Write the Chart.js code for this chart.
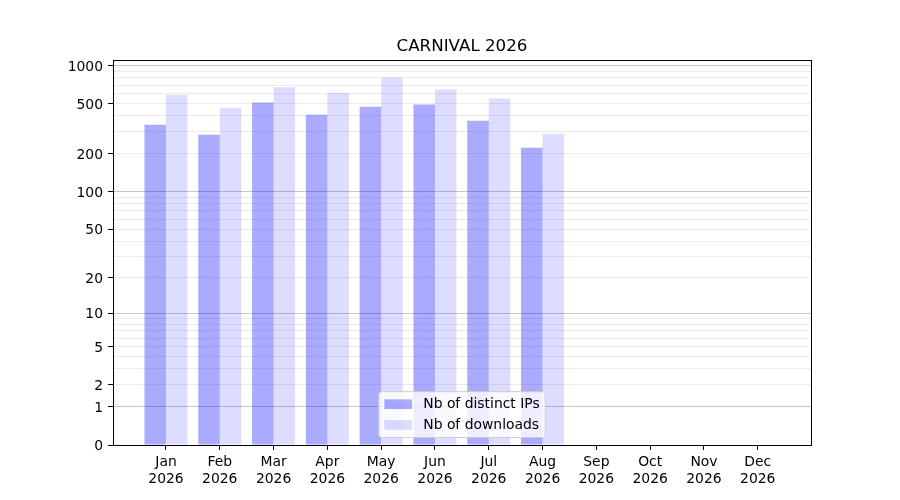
<!DOCTYPE html>
<html>
<head>
<meta charset="utf-8">
<style>
html,body{margin:0;padding:0;background:#fff}
#wrap{width:900px;height:500px}
</style>
<script src="https://cdn.jsdelivr.net/npm/chart.js@4.4.1/dist/chart.umd.min.js"></script>
</head>
<body>
<div id="wrap"><canvas id="c" width="900" height="500"></canvas></div>
<script>
// ---- data ----
const chartTitle = 'CARNIVAL 2026';
const months = ['Jan','Feb','Mar','Apr','May','Jun','Jul','Aug','Sep','Oct','Nov','Dec'];
const yearLabel = '2026';
const distinctIPs = [341, 284, 512, 409, 474, 492, 367, 224];
const downloads = [589, 465, 674, 612, 805, 647, 549, 289];
const seriesLabels = ['Nb of distinct IPs', 'Nb of downloads'];
const yTickLabels = [0, 1, 2, 5, 10, 20, 50, 100, 200, 500, 1000];
const yMajorGrid = [1, 10, 100, 1000];
const yMinorGrid = [2,3,4,5,6,7,8,9,20,30,40,50,60,70,80,90,200,300,400,500,600,700,800,900];
const yGridValues = [0].concat(yMajorGrid, yMinorGrid).sort((a, b) => a - b);

const FONT = '"DejaVu Sans", sans-serif';
const f = v => Math.log10(1 + v);

// ---- custom log(1+x) scale ----
class Log1pScale extends Chart.Scale {
  parse(raw, index) {
    const v = Chart.LinearScale.prototype.parse.call(this, raw, index);
    return isFinite(v) && v >= 0 ? v : null;
  }
  determineDataLimits() {
    const {min, max} = this.getMinMax(true);
    this.min = isFinite(min) ? Math.max(0, min) : 0;
    this.max = isFinite(max) ? max : 1000;
  }
  buildTicks() { return yGridValues.map(v => ({value: v})); }
  getLabelForValue(v) { return String(v); }
  configure() {
    super.configure();
    this._startValue = f(this.min);
    this._valueRange = f(this.max) - this._startValue;
  }
  getPixelForValue(v) {
    if (v === undefined || v === null || isNaN(v)) v = this.min;
    return this.getPixelForDecimal((f(v) - this._startValue) / this._valueRange);
  }
  getValueForPixel(p) {
    const d = this.getDecimalForPixel(p);
    return Math.pow(10, this._startValue + d * this._valueRange) - 1;
  }
}
Log1pScale.id = 'log1p';
Log1pScale.defaults = {};
Chart.register(Log1pScale);

// ---- frame + legend plugins ----
const framePlugin = {
  id: 'frame',
  afterDatasetsDraw(chart) {
    const {ctx, chartArea: a} = chart;
    ctx.save();
    ctx.strokeStyle = '#000';
    ctx.lineWidth = 1;
    ctx.strokeRect(Math.round(a.left) + 0.5, Math.round(a.top) + 0.5,
                   Math.round(a.right) - Math.round(a.left), Math.round(a.bottom) - Math.round(a.top));
    ctx.restore();
  }
};

const legendPlugin = {
  id: 'innerLegend',
  afterDraw(chart) {
    const {ctx, chartArea: a} = chart;
    const fs = 13.9, pad = 0.4 * fs, handleW = 2 * fs, handleH = 0.7 * fs,
          textPad = 0.8 * fs, rowH = fs, spacing = 0.5 * fs;
    ctx.save();
    ctx.font = fs + 'px ' + FONT;
    const items = chart.data.datasets.map(d => ({label: d.label, color: d.backgroundColor}));
    const tw = Math.max(...items.map(i => ctx.measureText(i.label).width));
    const w = 2 * pad + handleW + textPad + tw;
    const h = 2 * pad + items.length * rowH + (items.length - 1) * spacing;
    const x = (a.left + a.right) / 2 - w / 2;
    const y = a.bottom - 0.5 * fs - h - 0.5;
    const r = 3;
    ctx.beginPath();
    ctx.moveTo(x + r, y);
    ctx.arcTo(x + w, y, x + w, y + h, r);
    ctx.arcTo(x + w, y + h, x, y + h, r);
    ctx.arcTo(x, y + h, x, y, r);
    ctx.arcTo(x, y, x + w, y, r);
    ctx.closePath();
    ctx.fillStyle = 'rgba(255,255,255,0.8)';
    ctx.fill();
    ctx.strokeStyle = '#cccccc';
    ctx.lineWidth = 1;
    ctx.stroke();
    items.forEach((it, i) => {
      const cy = y + pad + rowH / 2 + i * (rowH + spacing);
      ctx.fillStyle = it.color;
      ctx.fillRect(x + pad, cy - handleH / 2, handleW, handleH);
      ctx.fillStyle = '#000';
      ctx.textBaseline = 'middle';
      ctx.textAlign = 'left';
      ctx.fillText(it.label, x + pad + handleW + textPad, cy + 0.5);
    });
    ctx.restore();
  }
};

// ---- chart ----
new Chart(document.getElementById('c'), {
  type: 'bar',
  data: {
    datasets: [
      {
        label: seriesLabels[0],
        data: distinctIPs.map((v, i) => ({x: i, y: v})),
        backgroundColor: 'rgba(0,0,255,0.333)',
        borderWidth: 0,
        categoryPercentage: 0.8,
        barPercentage: 1.0
      },
      {
        label: seriesLabels[1],
        data: downloads.map((v, i) => ({x: i, y: v})),
        backgroundColor: 'rgba(0,0,255,0.133)',
        borderWidth: 0,
        categoryPercentage: 0.8,
        barPercentage: 1.0
      }
    ]
  },
  options: {
    responsive: false,
    animation: false,
    layout: {padding: {left: 0, right: 89, top: 0, bottom: 0}},
    plugins: {
      legend: {display: false},
      tooltip: {enabled: false},
      title: {
        display: true,
        text: chartTitle,
        fullSize: false,
        color: '#000',
        font: {family: FONT, size: 16.7, weight: 'normal', lineHeight: 1.2},
        padding: {top: 37, bottom: 2.96}
      }
    },
    scales: {
      x: {
        type: 'linear',
        min: -0.985,
        max: 11.99,
        bounds: 'data',
        offset: false,
        afterBuildTicks: (axis) => { axis.ticks = months.map((m, i) => ({value: i})); },
        afterFit: (axis) => { axis.height = 55; },
        border: {display: false},
        grid: {display: true, drawOnChartArea: false, drawTicks: true, offset: false,
               tickLength: 5, tickColor: '#000', tickWidth: 1, color: 'rgba(0,0,0,0)'},
        ticks: {
          autoSkip: false, maxRotation: 0, minRotation: 0, padding: 4,
          color: '#000',
          font: {family: FONT, size: 13.9, lineHeight: 1.2},
          callback: (v) => [months[v], yearLabel]
        }
      },
      y: {
        type: 'log1p',
        min: 0,
        max: 1110,
        afterFit: (axis) => { axis.width = 113; },
        border: {display: false},
        grid: {
          display: true, drawOnChartArea: true, drawTicks: true, tickLength: 5, lineWidth: 1,
          color: (ctx) => {
            const v = ctx.tick ? ctx.tick.value : null;
            if (v === 0) return 'rgba(0,0,0,0)';
            return yMajorGrid.includes(v) ? '#c8c8c8' : '#ececec';
          },
          tickColor: (ctx) => {
            const v = ctx.tick ? ctx.tick.value : null;
            return yTickLabels.includes(v) ? '#000' : 'rgba(0,0,0,0)';
          }
        },
        ticks: {
          autoSkip: false, padding: 5, color: '#000', labelOffset: 1.5,
          font: {family: FONT, size: 13.9},
          callback: (v) => yTickLabels.includes(v) ? String(v) : ''
        }
      }
    }
  },
  plugins: [framePlugin, legendPlugin]
});
</script>
</body>
</html>
